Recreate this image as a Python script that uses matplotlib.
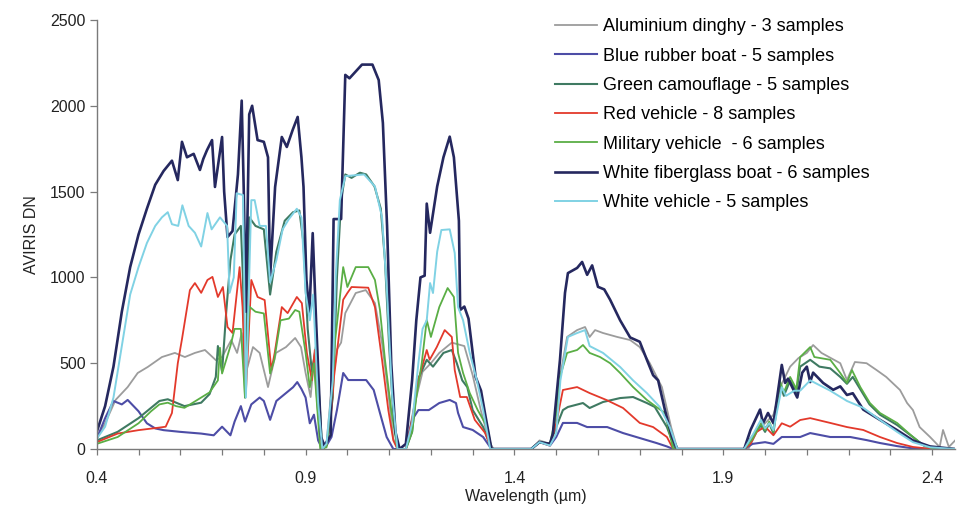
import matplotlib
matplotlib.use("Agg")
import matplotlib.pyplot as plt
from matplotlib.ticker import MultipleLocator

plt.rcParams['font.family'] = ['Liberation Sans', 'DejaVu Sans']

# Spectra: wavelength (um) and AVIRIS DN per material
alu_wl = [0.40, 0.42, 0.445, 0.474, 0.498, 0.522, 0.556, 0.587, 0.611, 0.635, 0.659, 0.685, 0.70,
          0.722, 0.736, 0.747, 0.757, 0.774, 0.79, 0.81, 0.829, 0.853, 0.875, 0.889, 0.90, 0.912,
          0.92, 0.93, 0.94, 0.95, 0.96, 0.975, 0.985, 0.995, 1.02, 1.044, 1.066, 1.083, 1.098, 1.11,
          1.12, 1.14, 1.16, 1.18, 1.20, 1.22, 1.25, 1.28, 1.30, 1.32, 1.34, 1.35,
          1.44, 1.46, 1.485, 1.492, 1.509, 1.526, 1.55, 1.569, 1.58, 1.593, 1.612, 1.646, 1.677,
          1.70, 1.724, 1.753, 1.775, 1.79,
          1.95, 1.96, 1.98, 2.00, 2.02, 2.04, 2.06, 2.08, 2.10, 2.115, 2.135, 2.18, 2.196, 2.215,
          2.243, 2.267, 2.29, 2.323, 2.34, 2.354, 2.37, 2.395, 2.418, 2.426, 2.44, 2.455]
alu_dn = [60, 150, 286, 361, 443, 478, 536, 560, 536, 560, 577, 518, 536,
          635, 560, 676, 443, 594, 560, 361, 560, 594, 647, 594, 443, 303,
          518, 200, 0, 30, 300, 580, 620, 792, 909, 926, 850, 617, 326, 60,
          0, 0, 250, 450, 500, 560, 620, 600, 430, 220, 40, 0,
          0, 50, 30, 70, 420, 653, 693, 711, 653, 693, 676, 653, 635,
          594, 500, 361, 128, 0,
          0, 0, 100, 150, 200, 380, 480, 530, 560, 606, 560, 500, 402, 507,
          500, 460, 420, 344, 268, 227, 128, 70, 12, 111, 12, 50]

blue_wl = [0.40, 0.42, 0.44, 0.46, 0.474, 0.50, 0.52, 0.54, 0.56, 0.60, 0.65, 0.68, 0.70, 0.72,
           0.73, 0.745, 0.755, 0.77, 0.79, 0.80, 0.815, 0.83, 0.85, 0.87, 0.88, 0.89, 0.90, 0.91,
           0.92, 0.93, 0.94, 0.95, 0.962, 0.975, 0.99, 1.002, 1.015, 1.045, 1.063, 1.078, 1.094, 1.11,
           1.14, 1.155, 1.17, 1.195, 1.22, 1.245, 1.26, 1.265, 1.277, 1.30, 1.325, 1.345,
           1.44, 1.46, 1.485, 1.50, 1.516, 1.55, 1.574, 1.622, 1.66, 1.70, 1.74, 1.765, 1.78,
           1.95, 1.97, 2.00, 2.02, 2.04, 2.084, 2.108, 2.156, 2.204, 2.243, 2.275, 2.316, 2.35, 2.40, 2.455]
blue_dn = [60, 180, 280, 260, 286, 220, 150, 120, 110, 100, 90, 80, 130, 80,
           160, 250, 160, 260, 300, 280, 170, 280, 320, 360, 390, 350, 300, 150,
           200, 50, 0, 20, 70, 227, 443, 402, 402, 402, 344, 210, 70, 0,
           0, 170, 227, 227, 268, 286, 268, 210, 128, 111, 70, 0,
           0, 40, 20, 70, 152, 152, 128, 128, 93, 64, 35, 15, 0,
           0, 30, 40, 30, 70, 70, 93, 70, 70, 52, 35, 17, 5, 0, 0]

camo_wl = [0.40, 0.45, 0.50, 0.53, 0.55, 0.57, 0.59, 0.61, 0.63, 0.65, 0.67, 0.685, 0.69, 0.70,
           0.71, 0.72, 0.73, 0.745, 0.75, 0.755, 0.765, 0.78, 0.80, 0.815, 0.83, 0.85, 0.87, 0.885,
           0.895, 0.905, 0.915, 0.925, 0.94, 0.95, 0.965, 0.975, 0.985, 0.995, 1.01, 1.03, 1.045,
           1.065, 1.08, 1.09, 1.10, 1.11, 1.12,
           1.14, 1.155, 1.168, 1.19, 1.205, 1.23, 1.25, 1.262, 1.275, 1.287, 1.30, 1.325, 1.345,
           1.44, 1.46, 1.485, 1.50, 1.516, 1.528, 1.564, 1.58, 1.612, 1.653, 1.684, 1.717, 1.736,
           1.765, 1.785,
           1.95, 1.965, 1.99, 2.00, 2.01, 2.02, 2.035, 2.045, 2.06, 2.075, 2.084, 2.108, 2.13, 2.156,
           2.18, 2.196, 2.21, 2.23, 2.25, 2.275, 2.316, 2.354, 2.38, 2.40, 2.455]
camo_dn = [50, 100, 180, 240, 280, 290, 270, 250, 260, 270, 320, 420, 600, 450,
           800, 1100, 1250, 1300, 1000, 300, 1350, 1300, 1280, 900, 1150, 1330, 1380, 1390,
           1200, 700, 450, 600, 0, 20, 300, 1000, 1450, 1600, 1580, 1610, 1600,
           1530, 1400, 1100, 600, 200, 0,
           0, 100, 400, 520, 480, 560, 577, 500, 400, 361, 227, 128, 0,
           0, 40, 30, 128, 227, 245, 268, 239, 274, 297, 303, 268, 245,
           128, 0,
           0, 60, 140, 100, 150, 90, 380, 310, 400, 330, 480, 520, 480, 470,
           420, 380, 420, 340, 260, 200, 140, 70, 20, 5, 0]

red_wl = [0.40, 0.45, 0.50, 0.55, 0.565, 0.58, 0.594, 0.604, 0.623, 0.635, 0.65, 0.665, 0.677,
          0.69, 0.702, 0.713, 0.725, 0.742, 0.749, 0.757, 0.77, 0.785, 0.802, 0.818, 0.826, 0.843,
          0.857, 0.879, 0.891, 0.903, 0.915, 0.922, 0.93, 0.94, 0.95, 0.96, 0.968, 0.99, 1.00, 1.01,
          1.05, 1.066, 1.083, 1.098, 1.11, 1.12,
          1.14, 1.155, 1.17, 1.19, 1.197, 1.214, 1.233, 1.25, 1.257, 1.27, 1.286, 1.305, 1.33, 1.345,
          1.44, 1.46, 1.485, 1.50, 1.516, 1.55, 1.58, 1.62, 1.66, 1.70, 1.732, 1.765, 1.78,
          1.95, 1.965, 1.98, 2.00, 2.02, 2.04, 2.06, 2.084, 2.108, 2.156, 2.196, 2.235, 2.275,
          2.316, 2.354, 2.40, 2.455]
red_dn = [40, 90, 110, 125, 130, 210, 500, 640, 926, 967, 910, 985, 1003,
          886, 944, 711, 676, 1060, 827, 326, 985, 886, 868, 460, 560, 827,
          792, 886, 850, 560, 400, 577, 200, 0, 20, 170, 420, 870, 909, 944,
          940, 827, 520, 227, 50, 0,
          0, 170, 400, 577, 520, 594, 693, 653, 460, 303, 303, 170, 93, 0,
          0, 40, 20, 150, 344, 361, 326, 286, 239, 152, 128, 70, 0,
          0, 30, 100, 130, 80, 150, 130, 169, 180, 152, 128, 111, 70,
          35, 12, 0, 0]

mil_wl = [0.40, 0.45, 0.50, 0.53, 0.55, 0.57, 0.59, 0.61, 0.63, 0.65, 0.67, 0.69, 0.695, 0.70,
          0.71, 0.72, 0.73, 0.745, 0.755, 0.765, 0.78, 0.80, 0.815, 0.825, 0.84, 0.86, 0.875, 0.885,
          0.90, 0.91, 0.92, 0.935, 0.95, 0.96, 0.97, 0.99, 1.00, 1.02, 1.05, 1.066, 1.078, 1.09,
          1.105, 1.12,
          1.14, 1.155, 1.165, 1.178, 1.19, 1.20, 1.22, 1.24, 1.255, 1.265, 1.277, 1.293, 1.312,
          1.335, 1.345,
          1.44, 1.46, 1.485, 1.50, 1.509, 1.526, 1.55, 1.564, 1.58, 1.605, 1.629, 1.653, 1.684,
          1.717, 1.74, 1.76, 1.78,
          1.95, 1.97, 1.99, 2.00, 2.01, 2.02, 2.035, 2.045, 2.06, 2.075, 2.084, 2.108, 2.118,
          2.156, 2.18, 2.196, 2.208, 2.228, 2.251, 2.275, 2.316, 2.354, 2.378, 2.40, 2.455]
mil_dn = [30, 70, 150, 220, 260, 270, 250, 240, 270, 300, 330, 400, 590, 440,
          520, 600, 700, 700, 300, 830, 800, 790, 440, 520, 750, 760, 810, 800,
          560, 360, 500, 0, 10, 200, 617, 1060, 944, 1060, 1060, 985, 810, 520,
          227, 0,
          0, 100, 300, 500, 752, 653, 827, 938, 886, 560, 443, 326, 227,
          128, 0,
          0, 40, 30, 200, 420, 560, 577, 606, 560, 536, 500, 443, 361,
          286, 245, 210, 0,
          0, 60, 150, 110, 160, 100, 400, 330, 420, 350, 536, 594, 536,
          520, 443, 385, 460, 361, 268, 210, 152, 70, 23, 5, 0]

fib_wl = [0.40, 0.42, 0.44, 0.46, 0.48, 0.50, 0.52, 0.54, 0.56, 0.58, 0.594, 0.604, 0.616, 0.632,
          0.647, 0.655, 0.664, 0.676, 0.683, 0.70, 0.705, 0.713, 0.725, 0.738, 0.747, 0.752, 0.757,
          0.765, 0.772, 0.785, 0.80, 0.81, 0.815, 0.827, 0.843, 0.855, 0.869, 0.881, 0.89, 0.895,
          0.902, 0.909, 0.917, 0.925, 0.937, 0.945, 0.96, 0.967, 0.985, 0.995, 1.005, 1.02, 1.035,
          1.06, 1.075, 1.085, 1.095, 1.105, 1.115, 1.125,
          1.14, 1.155, 1.165, 1.175, 1.185, 1.19, 1.198, 1.215, 1.23, 1.245, 1.255, 1.267, 1.27,
          1.28, 1.29, 1.30, 1.307, 1.32, 1.33, 1.345,
          1.44, 1.46, 1.485, 1.492, 1.509, 1.521, 1.528, 1.55, 1.562, 1.574, 1.586, 1.60, 1.615,
          1.629, 1.653, 1.677, 1.70, 1.717, 1.732, 1.744, 1.76, 1.777, 1.79,
          1.95, 1.965, 1.988, 1.995, 2.007, 2.02, 2.04, 2.048, 2.055, 2.077, 2.089, 2.10, 2.108,
          2.115, 2.139, 2.163, 2.18, 2.196, 2.21, 2.235, 2.275, 2.316, 2.354, 2.395, 2.455]
fib_dn = [100, 250, 480, 800, 1060, 1250, 1400, 1540, 1620, 1680, 1567, 1790, 1700, 1720,
          1626, 1690, 1742, 1800, 1527, 1818, 1500, 1235, 1270, 1600, 2030, 1500, 800,
          1950, 2000, 1800, 1790, 1700, 1000, 1527, 1818, 1760, 1859, 1935, 1700, 1527,
          985, 792, 1258, 752, 70, 20, 80, 1340, 1340, 2180, 2160, 2200, 2240,
          2240, 2150, 1900, 1300, 500, 100, 0,
          30, 400, 750, 1000, 1010, 1430, 1260, 1530, 1700, 1820, 1700, 1330, 810,
          830, 760, 560, 420, 340, 200, 0,
          0, 40, 30, 90, 520, 910, 1025, 1055, 1090, 1015, 1070, 945, 930,
          870, 750, 650, 625, 520, 430, 400, 230, 70, 0,
          0, 110, 230, 150, 210, 150, 490, 385, 410, 300, 445, 480, 390,
          445, 385, 345, 365, 315, 325, 230, 170, 110, 50, 15, 0]

wv_wl = [0.40, 0.42, 0.44, 0.46, 0.48, 0.50, 0.52, 0.54, 0.556, 0.57, 0.58, 0.595, 0.605, 0.62,
         0.635, 0.65, 0.665, 0.675, 0.695, 0.712, 0.718, 0.728, 0.735, 0.75, 0.757, 0.77, 0.778,
         0.79, 0.805, 0.815, 0.83, 0.845, 0.86, 0.879, 0.89, 0.90, 0.91, 0.918, 0.93, 0.94,
         0.95, 0.965, 0.972, 0.982, 0.995, 1.04, 1.066, 1.083, 1.095, 1.107, 1.12,
         1.14, 1.155, 1.17, 1.18, 1.19, 1.198, 1.205, 1.215, 1.225, 1.245, 1.257, 1.265, 1.277,
         1.293, 1.31, 1.325, 1.342,
         1.44, 1.46, 1.485, 1.50, 1.51, 1.528, 1.55, 1.569, 1.58, 1.612, 1.653, 1.684, 1.717,
         1.748, 1.772, 1.79,
         1.95, 1.97, 1.99, 2.00, 2.01, 2.02, 2.04, 2.05, 2.07, 2.084, 2.108, 2.156, 2.196, 2.235,
         2.275, 2.316, 2.354, 2.395, 2.455]
wv_dn = [60, 130, 300, 600, 900, 1060, 1200, 1300, 1350, 1380, 1310, 1300, 1420, 1300,
         1260, 1180, 1375, 1280, 1350, 1300, 910, 1000, 1490, 1480, 300, 1450, 1450,
         1300, 1300, 970, 1100, 1280, 1340, 1400, 1350, 910, 750, 900, 270, 0,
         30, 400, 1000, 1450, 1590, 1600, 1530, 1350, 910, 320, 0,
         0, 150, 500, 700, 750, 967, 909, 1150, 1276, 1280, 1142, 827, 750,
         560, 400, 227, 0,
         0, 40, 20, 90, 400, 653, 676, 693, 600, 560, 478, 400, 326,
         245, 128, 0,
         0, 80, 170, 120, 150, 110, 360, 310, 340, 340, 400, 340, 280, 240,
         170, 100, 40, 10, 0]

labels = ['Aluminium dinghy - 3 samples', 'Blue rubber boat - 5 samples',
          'Green camouflage - 5 samples', 'Red vehicle - 8 samples',
          'Military vehicle  - 6 samples', 'White fiberglass boat - 6 samples',
          'White vehicle - 5 samples']
colors = ['#9c9c9c', '#4d4da6', '#3f7a62', '#e3392b', '#5aae45', '#25285f', '#80d2e4']
widths = [1.3, 1.5, 1.5, 1.3, 1.3, 1.9, 1.4]

series = [(alu_wl, alu_dn), (blue_wl, blue_dn), (camo_wl, camo_dn), (red_wl, red_dn),
          (mil_wl, mil_dn), (fib_wl, fib_dn), (wv_wl, wv_dn)]

fig = plt.figure(figsize=(9.58, 5.12), dpi=100)
ax = fig.add_axes([0.101, 0.123, 0.896, 0.838])

for (wl, dn), lab, col, lw in zip(series, labels, colors, widths):
    ax.plot(wl, dn, color=col, lw=lw, label=lab)

ax.set_xlim(0.4, 2.455)
ax.set_ylim(0, 2500)
ax.set_xticks([0.4, 0.9, 1.4, 1.9, 2.4])
ax.set_xticklabels(['0.4', '0.9', '1.4', '1.9', '2.4'])
ax.xaxis.set_minor_locator(MultipleLocator(0.1))
ax.set_yticks([0, 500, 1000, 1500, 2000, 2500])

for side in ['top', 'right']:
    ax.spines[side].set_visible(False)
for side in ['left', 'bottom']:
    ax.spines[side].set_color('#7a7a7a')
    ax.spines[side].set_linewidth(1.0)

ax.tick_params(axis='x', which='both', direction='out', length=4, width=0.9,
               color='#7a7a7a', pad=12, labelsize=11.5, labelcolor='#222222')
ax.tick_params(axis='y', direction='out', length=5, width=0.9, color='#7a7a7a',
               pad=3, labelsize=11.5, labelcolor='#222222')

ax.set_xlabel('Wavelength (µm)', fontsize=11.5, color='#222222', labelpad=2)
ax.set_ylabel('AVIRIS DN', fontsize=11.5, color='#222222', labelpad=8)

# legend sits in the upper right, no frame
ax.legend(loc='upper left', bbox_to_anchor=(0.572, 0.978), bbox_transform=fig.transFigure,
          frameon=False, fontsize=13, handlelength=2.3, handletextpad=0.35,
          labelspacing=0.68, borderaxespad=0)

fig.savefig('out.png', dpi=100)
